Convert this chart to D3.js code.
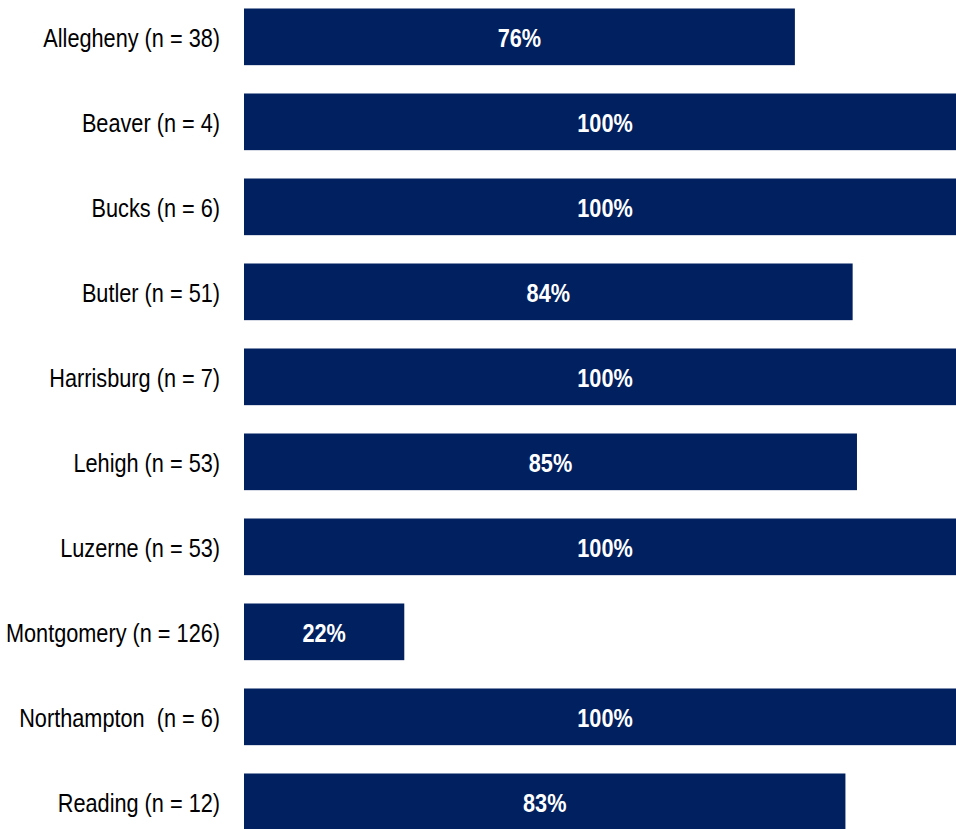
<!DOCTYPE html>
<html>
<head>
<meta charset="utf-8">
<script src="https://cdn.jsdelivr.net/npm/d3@7"></script>
<style>
  html, body { margin: 0; padding: 0; background: #fff; overflow: hidden; }
  svg { display: block; }
</style>
</head>
<body>
<svg id="chart" width="956" height="829"></svg>
<script>
const categories = [
  "Allegheny (n = 38)",
  "Beaver (n = 4)",
  "Bucks (n = 6)",
  "Butler (n = 51)",
  "Harrisburg (n = 7)",
  "Lehigh (n = 53)",
  "Luzerne (n = 53)",
  "Montgomery (n = 126)",
  "Northampton  (n = 6)",
  "Reading (n = 12)"
];
const values = [0.763, 1.0, 1.0, 0.843, 1.0, 0.849, 1.0, 0.222, 1.0, 0.833];
const valueLabels = ["76%", "100%", "100%", "84%", "100%", "85%", "100%", "22%", "100%", "83%"];

const data = categories.map((c, i) => ({ cat: c, value: values[i], label: valueLabels[i] }));

const svg = d3.select("#chart");
const FONT = "'Liberation Sans', Arial, sans-serif";
const NARROW = 0.835;

const x = d3.scaleLinear().domain([0, 1]).range([244, 966]);
const y = d3.scaleBand()
  .domain(categories)
  .range([-5.67, 844.33])
  .paddingInner(1 / 3)
  .paddingOuter(1 / 6);

// bars
svg.append("g")
  .selectAll("rect")
  .data(data)
  .join("rect")
  .attr("x", x(0))
  .attr("y", d => y(d.cat))
  .attr("width", d => x(d.value) - x(0))
  .attr("height", y.bandwidth())
  .attr("fill", "#002060");

// value labels
svg.append("g")
  .selectAll("text")
  .data(data)
  .join("text")
  .attr("transform", d => `translate(${(x(0) + x(d.value)) / 2},${y(d.cat) + y.bandwidth() / 2}) scale(${NARROW},1)`)
  .attr("dy", "0.4em")
  .attr("text-anchor", "middle")
  .attr("font-family", FONT)
  .attr("font-size", 26)
  .attr("font-weight", "bold")
  .attr("fill", "#ffffff")
  .text(d => d.label);

// category axis (labels only)
const axis = d3.axisLeft(y).tickSize(0).tickPadding(0);
const gAxis = svg.append("g")
  .attr("transform", "translate(220,0)")
  .call(axis);
gAxis.select(".domain").remove();
gAxis.selectAll("text")
  .attr("x", 0)
  .attr("transform", `scale(${NARROW},1)`)
  .attr("font-family", FONT)
  .attr("font-size", 26)
  .attr("fill", "#000")
  .attr("dy", "0.4em")
  .style("white-space", "pre")
  .attr("xml:space", "preserve");
</script>
</body>
</html>
